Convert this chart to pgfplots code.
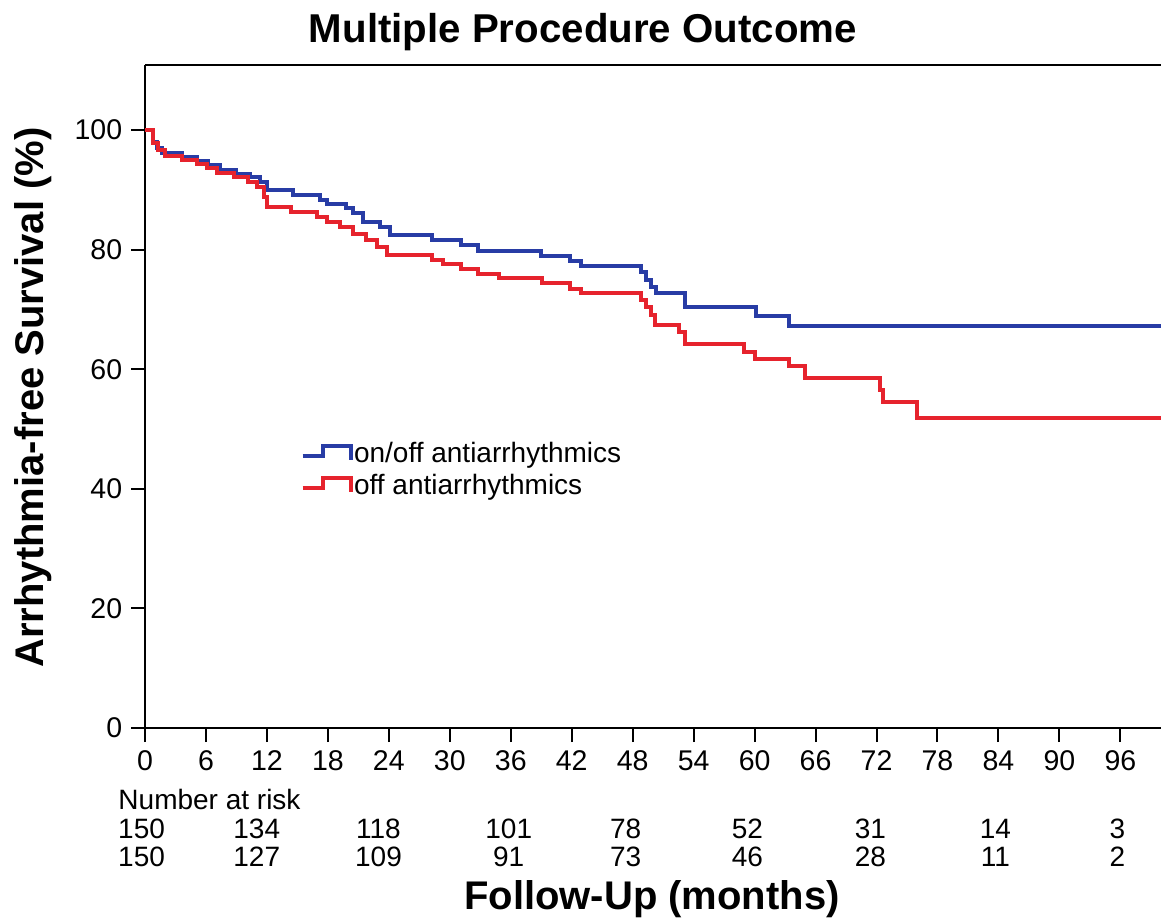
\documentclass[border=0pt]{standalone}
\usepackage{fontspec}
\setmainfont{Liberation Sans}
\usepackage{pgfplots}
\pgfplotsset{compat=1.18}
\definecolor{kmblue}{RGB}{40,60,165}
\definecolor{kmred}{RGB}{230,35,45}
\begin{document}
\begin{tikzpicture}
\begin{axis}[
  width=406.4pt, height=265.2pt, scale only axis,
  xmin=0, xmax=100, ymin=0, ymax=110.9,
  axis x line*=bottom, axis y line*=left,
  axis line style={line width=0.8pt, black},
  tick align=outside, major tick length=5.6pt,
  tick style={line width=0.8pt, black},
  xtick={0,6,...,96}, ytick={0,20,...,100},
  /pgf/number format/assume math mode=true,
  tick label style={font=\fontsize{11.4}{13}\selectfont},
  clip=false,
  legend style={at={(axis cs:15.26,48.2)}, anchor=north west, draw=none, fill=none,
    inner sep=0pt, row sep=2pt, font=\fontsize{11.2}{13}\selectfont,
    nodes={inner sep=0.6pt}, cells={anchor=west}},
  legend image code/.code={\draw[#1, line width=1.6pt] (0pt,-0.8pt) -- (8pt,-0.8pt) -- (8pt,3.2pt) -- (19.2pt,3.2pt) -- (19.2pt,-2.4pt);},
]
\addplot[const plot, color=kmblue, line width=1.6pt] coordinates {
(0,100) (0.8,98) (1.2,97) (1.7,96.2) (3.6,95.5) (5.1,94.8) (6.2,94.1) (7.4,93.4)
(9.0,92.7) (10.3,92.1) (11.3,91.4) (12.0,90.0) (14.6,89.1) (17.2,88.3) (17.9,87.6)
(19.8,86.9) (20.5,86.1) (21.5,84.7) (23.1,83.8) (24.1,82.4) (28.2,81.6) (31.1,80.8)
(32.8,79.8) (39.0,78.9) (41.8,78.1) (42.9,77.3) (48.8,76.3) (49.3,74.9) (49.8,73.8)
(50.3,72.8) (53.1,70.5) (60.1,68.9) (63.4,67.3) (100,67.3)
};
\addlegendentry{on/off antiarrhythmics}
\addplot[const plot, color=kmred, line width=1.6pt] coordinates {
(0,100) (0.8,97.8) (1.3,96.7) (2.0,95.7) (3.6,95.0) (5.1,94.3) (6.1,93.6) (7.1,92.8)
(8.8,92.1) (10.1,91.4) (11.0,90.5) (11.7,88.8) (12.0,87.2) (14.4,86.3) (16.9,85.5)
(17.9,84.7) (19.2,83.8) (20.5,82.7) (21.8,81.6) (22.8,80.5) (23.8,79.1) (28.2,78.3)
(29.3,77.6) (31.1,76.8) (32.8,76.0) (34.8,75.2) (39.1,74.4) (41.8,73.5) (42.9,72.7)
(48.8,71.6) (49.3,70.5) (49.8,69.1) (50.2,67.4) (52.6,66.3) (53.1,64.3) (59.0,62.9)
(60.0,61.7) (63.4,60.5) (65.0,58.6) (72.3,56.5) (72.6,54.5) (76.0,51.9) (100,51.9)
};
\addlegendentry{off antiarrhythmics}
\draw[line width=0.8pt] (rel axis cs:0,1) -- (rel axis cs:1,1);
\coordinate (bl) at (rel axis cs:0,0);
\coordinate (tr) at (rel axis cs:1,1);
\node[anchor=base, font=\fontsize{16.1}{19}\bfseries\selectfont] at (axis cs:43.1,114.7) {Multiple Procedure Outcome};
\node[rotate=90, font=\fontsize{16}{19}\bfseries\selectfont] at (axis cs:-11.0,55.3) {Arrhythmia-free Survival (\%)};
\node[anchor=base, font=\fontsize{16}{19}\bfseries\selectfont] at (axis cs:49.9,-30.4) {Follow-Up (months)};
\node[anchor=base west, inner sep=0pt, font=\fontsize{11.2}{13}\selectfont] at (axis cs:-2.66,-13.7) {Number at risk};
\node[anchor=base, font=\fontsize{11.2}{13}\selectfont] at (axis cs:-0.34,-18.4) {150};
\node[anchor=base, font=\fontsize{11.2}{13}\selectfont] at (axis cs:11.0,-18.4) {134};
\node[anchor=base, font=\fontsize{11.2}{13}\selectfont] at (axis cs:22.98,-18.4) {118};
\node[anchor=base, font=\fontsize{11.2}{13}\selectfont] at (axis cs:35.8,-18.4) {101};
\node[anchor=base, font=\fontsize{11.2}{13}\selectfont] at (axis cs:47.3,-18.4) {78};
\node[anchor=base, font=\fontsize{11.2}{13}\selectfont] at (axis cs:59.3,-18.4) {52};
\node[anchor=base, font=\fontsize{11.2}{13}\selectfont] at (axis cs:71.4,-18.4) {31};
\node[anchor=base, font=\fontsize{11.2}{13}\selectfont] at (axis cs:83.7,-18.4) {14};
\node[anchor=base, font=\fontsize{11.2}{13}\selectfont] at (axis cs:95.7,-18.4) {3};
\node[anchor=base, font=\fontsize{11.2}{13}\selectfont] at (axis cs:-0.34,-23.2) {150};
\node[anchor=base, font=\fontsize{11.2}{13}\selectfont] at (axis cs:11.0,-23.2) {127};
\node[anchor=base, font=\fontsize{11.2}{13}\selectfont] at (axis cs:22.98,-23.2) {109};
\node[anchor=base, font=\fontsize{11.2}{13}\selectfont] at (axis cs:35.8,-23.2) {91};
\node[anchor=base, font=\fontsize{11.2}{13}\selectfont] at (axis cs:47.3,-23.2) {73};
\node[anchor=base, font=\fontsize{11.2}{13}\selectfont] at (axis cs:59.3,-23.2) {46};
\node[anchor=base, font=\fontsize{11.2}{13}\selectfont] at (axis cs:71.4,-23.2) {28};
\node[anchor=base, font=\fontsize{11.2}{13}\selectfont] at (axis cs:83.7,-23.2) {11};
\node[anchor=base, font=\fontsize{11.2}{13}\selectfont] at (axis cs:95.7,-23.2) {2};
\end{axis}
\pgfresetboundingbox
\useasboundingbox ([xshift=-58pt,yshift=-77.6pt]bl) rectangle ([yshift=26pt]tr);
\end{tikzpicture}
\end{document}
